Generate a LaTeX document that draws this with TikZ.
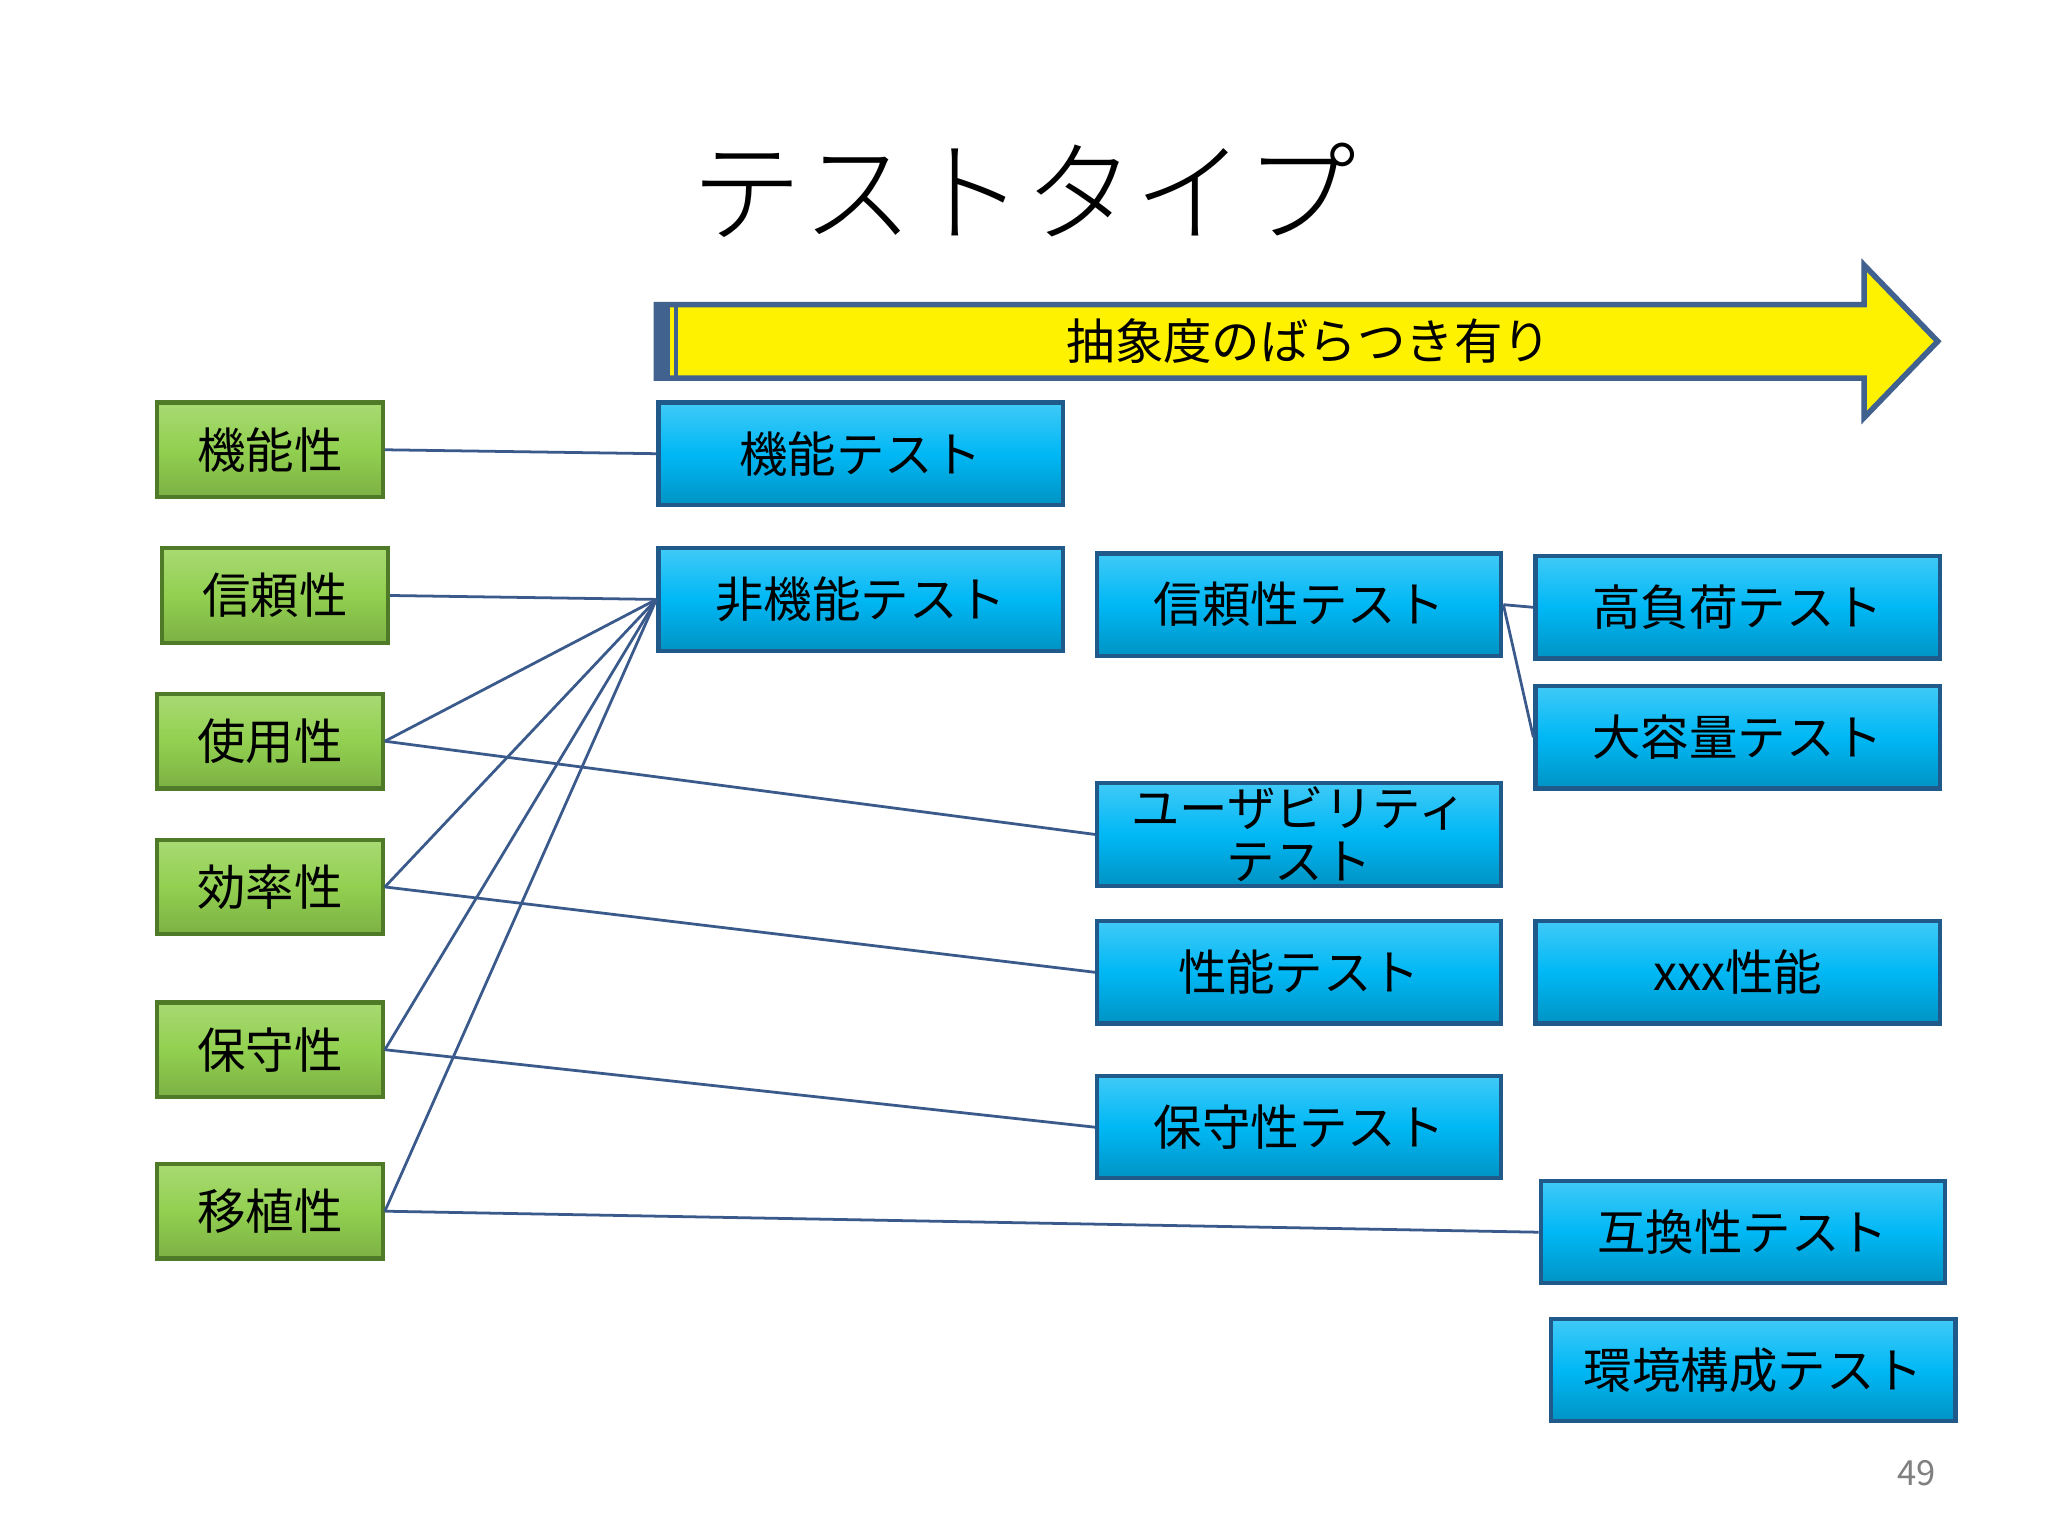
\documentclass[tikz,border=0pt]{standalone}
\usepackage{fontspec}
\newfontfamily\jp{Noto Sans CJK JP}
\newfontfamily\jpl{Noto Sans CJK JP Light}
\definecolor{gfill}{HTML}{92D050}
\definecolor{gedge}{HTML}{4F7A28}
\definecolor{bfill}{HTML}{00B8F5}
\definecolor{bedge}{HTML}{1F5A8A}
\definecolor{lnk}{HTML}{3A5A8C}
\definecolor{arr}{HTML}{41618F}
\begin{document}
\begin{tikzpicture}[x=0.1mm,y=-0.1mm,
 g/.style={draw=gedge,line width=0.9pt,top color=gfill!80!white,bottom color=gfill!85!black,middle color=gfill,anchor=north west,minimum width=17.2mm,minimum height=7.2mm,inner sep=0pt,font=\jp\fontsize{10.5}{12}\selectfont},
 b/.style={draw=bedge,line width=0.9pt,top color=bfill!75!white,bottom color=bfill!80!black,middle color=bfill,anchor=north west,minimum width=30.8mm,minimum height=7.8mm,inner sep=0pt,font=\jp\fontsize{10.5}{12}\selectfont},
 l/.style={draw=lnk,line width=0.6pt}]
\useasboundingbox (0,0) rectangle (1560,1170);
\fill[white] (0,0) rectangle (1560,1170);
\node[font=\jpl\fontsize{24}{28}\selectfont] (title) at (780,145) {テストタイプ};
\draw[arr,line width=1.2pt,fill=yellow] (500,232) -- (1420,232) -- (1420,202) -- (1476,260) -- (1420,318) -- (1420,288) -- (500,288) -- cycle;
\fill[arr] (500,233) rectangle (510,287);
\draw[arr,line width=0.8pt] (515,233) -- (515,287);
\node[font=\jp\fontsize{10.5}{12}\selectfont] (arrlab) at (997,260) {抽象度のばらつき有り};
\node[g] (q1) at (118,305) {機能性};
\node[g] (q2) at (122,416) {信頼性};
\node[g] (q3) at (118,527) {使用性};
\node[g] (q4) at (118,638) {効率性};
\node[g] (q5) at (118,762) {保守性};
\node[g] (q6) at (118,885) {移植性};
\node[b] (t1) at (500,305) {機能テスト};
\node[b] (t2) at (500,416) {非機能テスト};
\node[b] (t3) at (834,420) {信頼性テスト};
\node[b] (t4) at (1168,422) {高負荷テスト};
\node[b] (t5) at (1168,521) {大容量テスト};
\node[b,align=center,font=\jp\fontsize{10.5}{11.5}\selectfont] (t6) at (834,595) {ユーザビリティ\\テスト};
\node[b] (t7) at (834,700) {性能テスト};
\node[b] (t8) at (1168,700) {xxx性能};
\node[b] (t9) at (834,818) {保守性テスト};
\node[b] (t10) at (1172,898) {互換性テスト};
\node[b] (t11) at (1180,1003) {環境構成テスト};
\node[text=gray,font=\fontsize{7.5}{9}\selectfont\jp] (pg) at (1460,1122) {49};
\draw[l] (q1.east) -- (t1.west);
\draw[l] (q2.east) -- (t2.west);
\draw[l] (q3.east) -- (t2.west);
\draw[l] (q3.east) -- (t6.west);
\draw[l] (q4.east) -- (t2.west);
\draw[l] (q4.east) -- (t7.west);
\draw[l] (q5.east) -- (t2.west);
\draw[l] (q5.east) -- (t9.west);
\draw[l] (q6.east) -- (t2.west);
\draw[l] (q6.east) -- (t10.west);
\draw[l] (t3.east) -- (t4.west);
\draw[l] (t3.east) -- (t5.west);
\end{tikzpicture}
\end{document}
